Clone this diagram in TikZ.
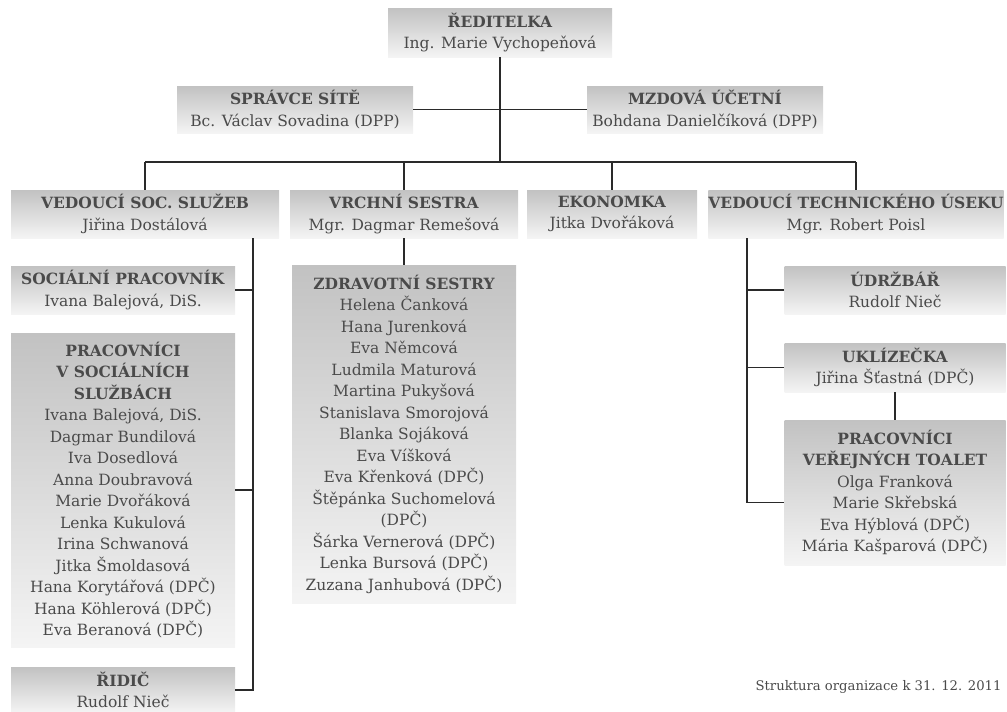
\documentclass[tikz,border=0pt]{standalone}
\usepackage{fontspec}
\setmainfont{DejaVu Serif}
\usetikzlibrary{positioning}
\definecolor{boxtop}{HTML}{C2C2C2}
\definecolor{boxbot}{HTML}{F4F4F4}
\definecolor{ink}{HTML}{4A4A4A}
\definecolor{wirec}{HTML}{2A2A2A}
\tikzset{unit/.style={top color=boxtop, bottom color=boxbot, text=ink, align=center,
    inner sep=0pt, minimum width=#1, font=\fontsize{15.5}{21.5}\selectfont}}
\tikzset{link/.style={draw=wirec, line width=1.2pt}}
\newcommand{\hd}[1]{\textbf{#1}}

\begin{document}
\begin{tikzpicture}[x=1pt,y=-1pt]
  \useasboundingbox (0,0) rectangle (1007,712);
  % top
  \node[unit=224, minimum height=49] (dir) at (500,32.5) {\hd{ŘEDITELKA}\\Ing. Marie Vychopeňová};
  \node[unit=236, minimum height=47] (sit) at (295,109.5) {\hd{SPRÁVCE SÍTĚ}\\Bc. Václav Sovadina (DPP)};
  \node[unit=236, minimum height=47] (mzda) at (705,109.5) {\hd{MZDOVÁ ÚČETNÍ}\\Bohdana Danielčíková (DPP)};
  % second row
  \node[unit=268, minimum height=48] (vsoc) at (145,214) {\hd{VEDOUCÍ SOC. SLUŽEB}\\Jiřina Dostálová};
  \node[unit=228, minimum height=48] (vses) at (404,214) {\hd{VRCHNÍ SESTRA}\\Mgr. Dagmar Remešová};
  \node[unit=170, minimum height=48] (ekon) at (612,214) {\hd{EKONOMKA}\\Jitka Dvořáková};
  \node[unit=294, minimum height=48] (vtech) at (856,214) {\hd{VEDOUCÍ TECHNICKÉHO ÚSEKU}\\Mgr. Robert Poisl};
  % left column
  \node[unit=224, minimum height=48] (socp) at (123,290) {\hd{SOCIÁLNÍ PRACOVNÍK}\\Ivana Balejová, DiS.};
  \node[unit=224, minimum height=314] (pss) at (123,490) {\hd{PRACOVNÍCI}\\\hd{V SOCIÁLNÍCH}\\\hd{SLUŽBÁCH}\\
    Ivana Balejová, DiS.\\Dagmar Bundilová\\Iva Dosedlová\\Anna Doubravová\\Marie Dvořáková\\
    Lenka Kukulová\\Irina Schwanová\\Jitka Šmoldasová\\Hana Korytářová (DPČ)\\
    Hana Köhlerová (DPČ)\\Eva Beranová (DPČ)};
  \node[unit=224, minimum height=46] (ridic) at (123,690) {\hd{ŘIDIČ}\\Rudolf Nieč};
  % middle column
  \node[unit=224, minimum height=338] (zdr) at (404,434) {\hd{ZDRAVOTNÍ SESTRY}\\Helena Čanková\\
    Hana Jurenková\\Eva Němcová\\Ludmila Maturová\\Martina Pukyšová\\Stanislava Smorojová\\
    Blanka Sojáková\\Eva Víšková\\Eva Křenková (DPČ)\\Štěpánka Suchomelová\\(DPČ)\\
    Šárka Vernerová (DPČ)\\Lenka Bursová (DPČ)\\Zuzana Janhubová (DPČ)};
  % right column
  \node[unit=221, minimum height=48] (udrz) at (895,290) {\hd{ÚDRŽBÁŘ}\\Rudolf Nieč};
  \node[unit=221, minimum height=49] (ukl) at (895,367.5) {\hd{UKLÍZEČKA}\\Jiřina Šťastná (DPČ)};
  \node[unit=221, minimum height=145] (wc) at (895,492.5) {\hd{PRACOVNÍCI}\\\hd{VEŘEJNÝCH TOALET}\\
    Olga Franková\\Marie Skřebská\\Eva Hýblová (DPČ)\\Mária Kašparová (DPČ)};
  \node[text=ink, anchor=base east, font=\fontsize{13.2}{16}\selectfont] (note) at (1005,690)
    {Struktura organizace k 31. 12. 2011};

  % connectors
  \coordinate (bus) at (0,162);
  \coordinate (spl) at (253,0);
  \coordinate (spr) at (747,0);
  \draw[link] (dir.south) -- (dir.south |- bus);
  \draw[link] (sit.east) -- (sit.east -| dir.south);
  \draw[link] (mzda.west) -- (mzda.west -| dir.south);
  \draw[link] (vsoc.north |- bus) -- (vtech.north |- bus);
  \foreach \n in {vsoc,vses,ekon,vtech}
    \draw[link] (\n.north |- bus) -- (\n.north);
  \draw[link] (spl |- vsoc.south) |- (ridic.east);
  \draw[link] (spl |- socp.east) -- (socp.east);
  \draw[link] (spl |- pss.east) -- (pss.east);
  \draw[link] (vses.south) -- (zdr.north);
  \draw[link] (spr |- vtech.south) |- ([yshift=-10]wc.west);
  \draw[link] (spr |- udrz.west) -- (udrz.west);
  \draw[link] (spr |- ukl.west) -- (ukl.west);
  \draw[link] (ukl.south) -- (wc.north);
\end{tikzpicture}
\end{document}
